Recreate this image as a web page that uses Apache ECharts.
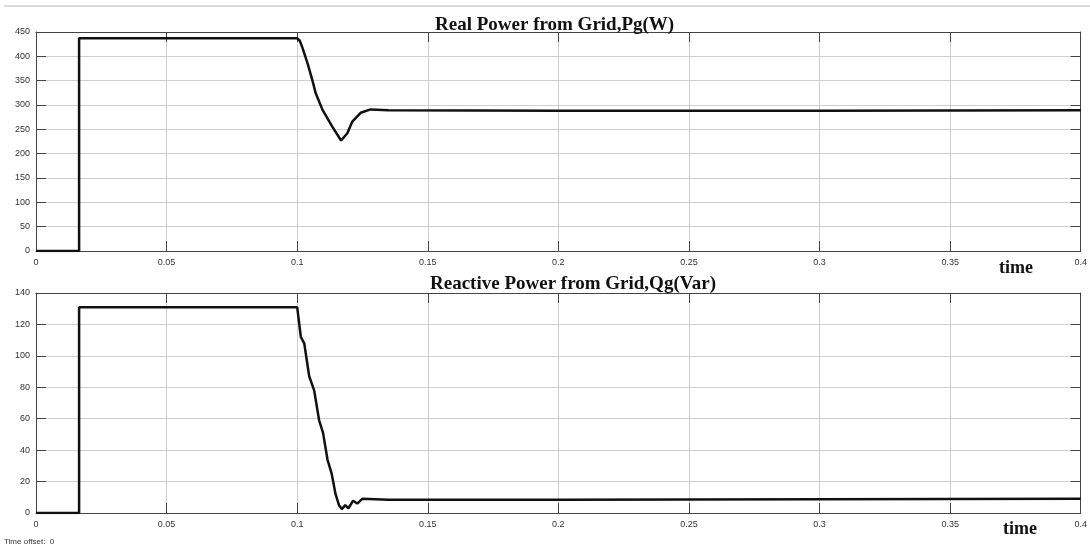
<!DOCTYPE html>
<html>
<head>
<meta charset="utf-8">
<script src="https://cdn.jsdelivr.net/npm/echarts@6/dist/echarts.min.js"></script>
<style>
  html, body { margin: 0; padding: 0; background: #fff; }
  #main { width: 1090px; height: 548px; }
</style>
</head>
<body>
<div id="main"></div>
<script>
// Real power Pg (W)
var pgTime  = [0, 0.0165, 0.0165, 0.1, 0.101, 0.102, 0.104, 0.1058, 0.1071, 0.1097, 0.1135, 0.1168, 0.1192, 0.1211, 0.1243, 0.1281, 0.135, 0.2, 0.3, 0.4];
var pgValue = [0, 0, 437, 437, 432, 418, 385, 351, 324, 290, 255, 227, 242, 266, 284, 291, 289, 288, 288, 289];

// Reactive power Qg (Var)
var qgTime  = [0, 0.0165, 0.0165, 0.1, 0.1014, 0.1027, 0.1046, 0.1065, 0.1084, 0.1099, 0.1116, 0.1132, 0.1147, 0.116, 0.1171, 0.1184, 0.1196, 0.1214, 0.123, 0.1249, 0.135, 0.2, 0.3, 0.4];
var qgValue = [0, 0, 131, 131, 112, 108, 87, 78, 59, 51, 34, 25, 12, 5, 2.5, 5, 3, 7.8, 6, 9, 8.5, 8.5, 8.7, 9];

function pairs(t, v) {
  return t.map(function (x, i) { return [x, v[i]]; });
}

var labelStyle = { color: '#333', fontSize: 9, fontFamily: 'Liberation Sans' };
var frame = { show: true, onZero: false, lineStyle: { color: '#444', width: 1 } };
var tick = { show: true, inside: true, length: 10, lineStyle: { color: '#444' } };
var gridLine = { color: '#cfcfcf', width: 1 };

function xAx(gi, pos, labels) {
  return {
    type: 'value', gridIndex: gi, position: pos, min: 0, max: 0.4, interval: 0.05,
    axisLine: frame, axisTick: tick, splitLine: { show: labels, lineStyle: gridLine },
    axisLabel: labels ? Object.assign({ margin: 7, showMaxLabel: true, formatter: function (v) { return String(+v.toFixed(2)); } }, labelStyle) : { show: false }
  };
}
function yAx(gi, pos, max, step, labels) {
  return {
    type: 'value', gridIndex: gi, position: pos, min: 0, max: max, interval: step,
    axisLine: frame, axisTick: tick, splitLine: { show: labels, lineStyle: gridLine },
    axisLabel: labels ? Object.assign({ margin: 6 }, labelStyle) : { show: false }
  };
}

var titleFont = { fontFamily: 'Liberation Serif', fontWeight: 'bold', fontSize: 19, color: '#111' };

var chart = echarts.init(document.getElementById('main'));
chart.setOption({
  animation: false,
  backgroundColor: '#fff',
  title: [
    { text: 'Real Power from Grid,Pg(W)', left: 430, top: 11, textStyle: titleFont },
    { text: 'Reactive Power from Grid,Qg(Var)', left: 425, top: 270, textStyle: titleFont }
  ],
  grid: [
    { left: 36, right: 8, top: 32, height: 219 },
    { left: 36, right: 8, top: 293, height: 220 }
  ],
  xAxis: [
    xAx(0, 'bottom', true), xAx(0, 'top', false),
    xAx(1, 'bottom', true), xAx(1, 'top', false)
  ],
  yAxis: [
    yAx(0, 'left', 450, 50, true), yAx(0, 'right', 450, 50, false),
    yAx(1, 'left', 140, 20, true), yAx(1, 'right', 140, 20, false)
  ],
  series: [
    { type: 'line', xAxisIndex: 0, yAxisIndex: 0, data: pairs(pgTime, pgValue), showSymbol: false,
      lineStyle: { color: '#111', width: 2.5 } },
    { type: 'line', xAxisIndex: 2, yAxisIndex: 2, data: pairs(qgTime, qgValue), showSymbol: false,
      lineStyle: { color: '#111', width: 2.5 } }
  ],
  graphic: [
    { type: 'rect', shape: { x: 4, y: 5, width: 1086, height: 2 }, style: { fill: '#dcdcdc' } },
    { type: 'text', left: 999, top: 259, style: { text: 'time', font: 'bold 18px "Liberation Serif"', fill: '#111' } },
    { type: 'text', left: 1003, top: 520, style: { text: 'time', font: 'bold 18px "Liberation Serif"', fill: '#111' } },
    { type: 'text', left: 4, top: 538, style: { text: 'Time offset:  0', font: '8px "Liberation Sans"', fill: '#333' } }
  ]
});
</script>
</body>
</html>
